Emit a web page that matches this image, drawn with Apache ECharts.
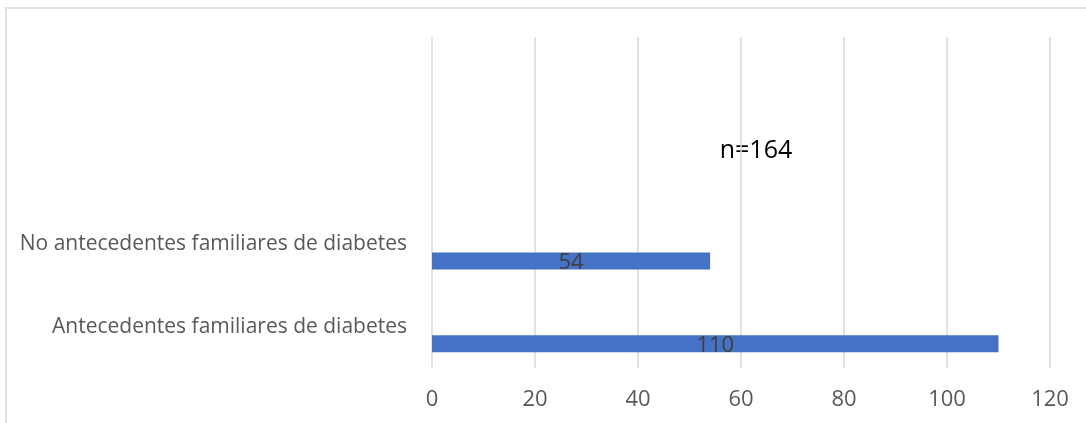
<!DOCTYPE html>
<html>
<head>
<meta charset="utf-8">
<script src="https://cdn.jsdelivr.net/npm/echarts@6/dist/echarts.min.js"></script>
<style>
html,body{margin:0;padding:0;background:#fff;}
#chart{width:1086px;height:423px;}
</style>
</head>
<body>
<div id="chart"></div>
<script>
// Categories listed bottom to top; two empty bands at the top
const categories = ['Antecedentes familiares de diabetes', 'No antecedentes familiares de diabetes', '', ''];
const values = [110, 54, '-', '-'];
const spacerValues = ['-', '-', '-', '-'];
const xTicks = { min: 0, max: 120, interval: 20 };
const annotation = 'n=164';

const FONT = 'Open Sans';
const chart = echarts.init(document.getElementById('chart'), null, { renderer: 'canvas' });
chart.setOption({
  backgroundColor: '#fff',
  animation: false,
  textStyle: { fontFamily: FONT },
  grid: { left: 432, right: 36, top: 37, bottom: 55, containLabel: false },
  xAxis: {
    type: 'value',
    min: xTicks.min, max: xTicks.max, interval: xTicks.interval,
    axisLine: { show: false },
    axisTick: { show: false },
    splitLine: { show: true, lineStyle: { color: '#d9d9d9', width: 1.5 } },
    axisLabel: { color: '#595959', fontSize: 22, fontFamily: FONT, margin: 21 }
  },
  yAxis: {
    type: 'category',
    data: categories,
    axisLine: { show: false },
    axisTick: { show: false },
    splitLine: { show: false },
    axisLabel: { color: '#595959', fontSize: 21, fontFamily: FONT, margin: 25 }
  },
  series: [
    {
      type: 'bar',
      data: spacerValues,
      barWidth: 17,
      barGap: '100%',
      itemStyle: { color: 'transparent' },
      silent: true
    },
    {
      type: 'bar',
      data: values,
      barWidth: 17,
      barGap: '100%',
      itemStyle: { color: '#4472C4' },
      label: {
        show: true,
        position: 'inside',
        color: '#404040',
        fontSize: 22,
        fontFamily: FONT,
        offset: [0, 2]
      }
    }
  ],
  graphic: [
    {
      type: 'rect',
      shape: { x: 6, y: 8, width: 1200, height: 600 },
      style: { fill: 'none', stroke: '#d9d9d9', lineWidth: 1.5 },
      silent: true
    },
    {
      type: 'text',
      x: 756, y: 151,
      style: {
        text: annotation,
        fill: '#000',
        fontSize: 25,
        fontFamily: FONT,
        align: 'center',
        verticalAlign: 'middle'
      }
    }
  ]
});
</script>
</body>
</html>
